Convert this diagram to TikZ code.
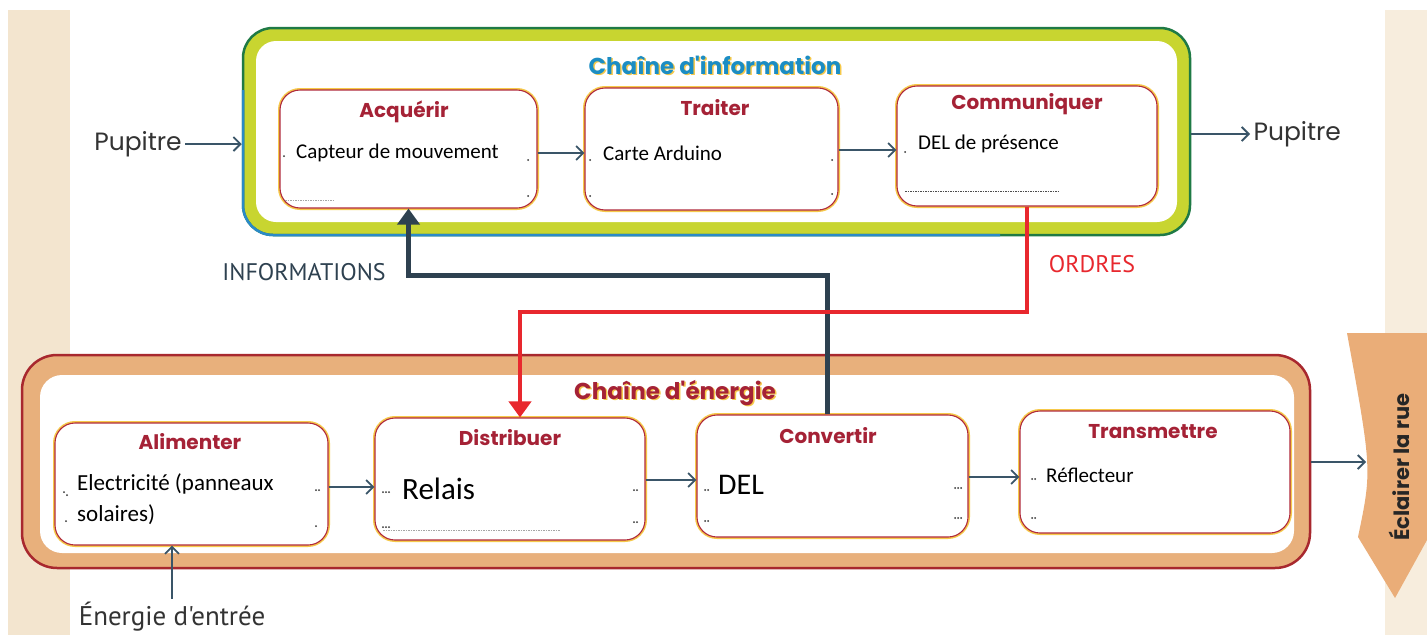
\documentclass[tikz,border=0pt]{standalone}
\usepackage{fontspec}
\setmainfont{Carlito}
\newfontfamily\popp{Poppins}
\newfontfamily\ptsans{PT Sans}
\usetikzlibrary{arrows.meta}
\definecolor{arrowc}{HTML}{3A5568}
\definecolor{infoc}{HTML}{2E4150}
\definecolor{ordc}{HTML}{E8282E}
\definecolor{boxred}{HTML}{B02A3C}
\definecolor{halo}{HTML}{F6C94A}
\definecolor{titlered}{HTML}{A52236}
\definecolor{infoblue}{HTML}{1B8DC4}
\definecolor{ygreen}{HTML}{C8D530}
\definecolor{dgreen}{HTML}{1F7A45}
\definecolor{lblue}{HTML}{2A8AC8}
\definecolor{tan}{HTML}{E8B07C}
\definecolor{eborder}{HTML}{A8282E}
\definecolor{beige}{HTML}{F3E5CF}
\definecolor{banner}{HTML}{EAAD78}
\definecolor{labelc}{HTML}{333333}
\tikzset{
  fbox/.style={draw=boxred, line width=1.1pt, rounded corners=20pt, fill=white,
    preaction={draw=halo, line width=4pt}, inner sep=0pt},
  ftitle/.style={font=\popp\bfseries\fontsize{20}{24}\selectfont, text=titlered},
  ftext/.style={font=\fontsize{21}{24}\selectfont, anchor=west, inner sep=0pt},
  flow/.style={draw=arrowc, line width=1.8pt, -{Straight Barb[length=7pt,width=14pt,line width=1.8pt]}},
  infoflow/.style={draw=infoc, line width=5pt, -{Triangle[length=16pt,width=22pt]}},
  ordflow/.style={draw=ordc, line width=4pt, -{Triangle[length=16pt,width=22pt]}},
  lbl/.style={font=\popp\fontsize{25}{28}\selectfont, text=labelc},
  ctitle/.style={font=\popp\bfseries\fontsize{23}{26}\selectfont},
  dotm/.style={fill=black!80},
}
\begin{document}
\begin{tikzpicture}[x=1pt,y=-1pt]
\useasboundingbox (0,0) rectangle (1427,635);
% page strips
\fill[beige] (8,10) rectangle (70,635);
\fill[beige!70] (1385,10) rectangle (1427,635);
\fill[white] (70,10) rectangle (1385,635);

% information chain frame
\node[draw=dgreen, line width=2.5pt, fill=ygreen, rounded corners=30pt,
  minimum width=947pt, minimum height=207pt, inner sep=0pt] (info) at (716.5,131.5) {};
\draw[lblue, line width=2.5pt, rounded corners=30pt] (243,90) -- (243,235) -- (1000,235);
\node[fill=white, rounded corners=20pt, minimum width=921pt, minimum height=181pt,
  inner sep=0pt] (infoin) at (716.5,131.5) {};
\node[ctitle, text=halo] at (716.5,66) {Chaîne d'information};
\node[ctitle, text=infoblue] (infot) at (715,65) {Chaîne d'information};

% energy chain frame
\node[draw=eborder, line width=2.5pt, fill=tan, rounded corners=35pt,
  minimum width=1288pt, minimum height=213pt, inner sep=0pt] (energy) at (666,461.5) {};
\node[fill=white, rounded corners=22pt, minimum width=1254pt, minimum height=178pt,
  inner sep=0pt] (energyin) at (667,464) {};
\node[ctitle, text=halo] at (676.5,394) {Chaîne d'énergie};
\node[ctitle, text=titlered] (energyt) at (675,393) {Chaîne d'énergie};

% info boxes
\node[fbox, minimum width=257pt, minimum height=118pt] (acq) at (408.5,149) {};
\node[ftitle] (acqt) at (404,112) {Acquérir};
\node[ftext] (acqx) at (296,153) {Capteur de mouvement};

\node[fbox, minimum width=253pt, minimum height=122pt] (trt) at (711.5,149) {};
\node[ftitle] (trtt) at (715,108) {Traiter};
\node[ftext] (trtx) at (603,153) {Carte Arduino};

\node[fbox, minimum width=260pt, minimum height=120pt] (comm) at (1027,146) {};
\node[ftitle] (commt) at (1027,104) {Communiquer};
\node[ftext] (commx) at (918,144) {DEL de présence};

% energy boxes
\node[fbox, minimum width=273pt, minimum height=122pt] (alim) at (191.5,484) {};
\node[ftitle] (alimt) at (190,442) {Alimenter};
\node[ftext, font=\fontsize{23}{26}\selectfont] (alimx1) at (77,484) {Electricité (panneaux};
\node[ftext, font=\fontsize{23}{26}\selectfont] (alimx2) at (77,515) {solaires)};

\node[fbox, minimum width=270pt, minimum height=122pt] (dist) at (510,479) {};
\node[ftitle] (distt) at (510,438) {Distribuer};
\node[ftext, font=\fontsize{31}{34}\selectfont] (distx) at (402,489) {Relais};

\node[fbox, minimum width=271pt, minimum height=122pt] (conv) at (832.5,476) {};
\node[ftitle] (convt) at (828,436) {Convertir};
\node[ftext, font=\fontsize{30}{33}\selectfont] (convx) at (718,485) {DEL};

\node[fbox, minimum width=270pt, minimum height=122pt] (trans) at (1155,472) {};
\node[ftitle] (transt) at (1153,432) {Transmettre};
\node[ftext] (transx) at (1046,475) {Réflecteur};

% placeholder dots
\foreach \p in {(284,156),(528,160),(528,196),(590,160),(832,160),(590,196),(832,194),(905,152),
  (64,492),(67,495),(316,490),(319,490),(66,521),(316,526),
  (383,492),(386,492),(389,492),(634,490),(637,490),(383,527),(386,527),(389,527),(634,522),(637,522),
  (705,490),(708,490),(955,488),(958,488),(961,488),(705,521),(708,521),(955,518),(958,518),(961,518),
  (1032,479),(1035,479),(1032,518),(1035,518)}
  \fill[dotm] \p circle (1pt);
\draw[black!70, line width=0.8pt, dash pattern=on 1.5pt off 1pt] (905,191) -- (1060,191);
\draw[black!35, line width=0.6pt, dash pattern=on 1.5pt off 1pt] (285,200) -- (335,200);
\draw[black!35, line width=0.6pt, dash pattern=on 1.5pt off 1pt] (383,530) -- (560,530);

% banner
\fill[banner] (1347,333) -- (1427,333) -- (1427,540) -- (1395,598) -- (1358,537)
  .. controls (1372,470) .. (1347,333);
\node[rotate=90, font=\popp\bfseries\fontsize{21}{24}\selectfont, text=black!85] (ecl) at (1399,467) {Éclairer la rue};
\coordinate (eclin) at (1366,462);

% side labels
\node[lbl] (pupL) at (138,144) {Pupitre};
\node[lbl, anchor=west] (pupR) at (1250,134) {Pupitre};
\node[font=\ptsans\fontsize{27}{30}\selectfont, text=labelc] (entree) at (172,617) {Énergie d'entrée};
\node[font=\ptsans\fontsize{24}{27}\selectfont, text=infoc] (infol) at (304,272) {INFORMATIONS};
\node[font=\ptsans\fontsize{24}{27}\selectfont, text=ordc] (ordl) at (1092,264) {ORDRES};

% flows
\draw[flow] (pupL.east) -- (pupL.east -| info.west);
\draw[flow] (acq.east |- 0,153) -- (trt.west |- 0,153);
\draw[flow] (trt.east |- 0,150) -- (comm.west |- 0,150);
\draw[flow] (info.east |- 0,134) -- (pupR.west);
\draw[flow] (alim.east |- 0,487) -- (dist.west |- 0,487);
\draw[flow] (dist.east |- 0,480) -- (conv.west |- 0,480);
\draw[flow] (conv.east |- 0,477) -- (trans.west |- 0,477);
\draw[flow] (energy.east |- 0,462) -- (eclin);
\draw[flow] (entree.north) -- (entree.north |- alim.south);

\draw[infoflow] ([xshift=-5pt]conv.north) -- ([xshift=-5pt]conv.north |- 0,275) -- (acq.south |- 0,275) -- (acq.south);
\draw[ordflow] (comm.south) -- (comm.south |- 0,312) -- ([xshift=10pt]dist.north |- 0,312) -- ([xshift=10pt]dist.north);
\end{tikzpicture}
\end{document}
